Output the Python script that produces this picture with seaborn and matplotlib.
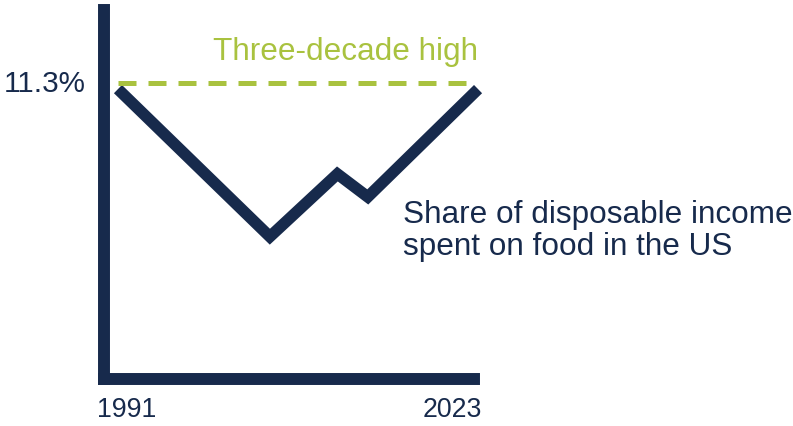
import matplotlib
matplotlib.use("Agg")
import matplotlib.pyplot as plt
import seaborn as sns
import pandas as pd

years = [1991, 2004.5, 2010.5, 2013.2, 2023]
share = [11.23, 9.56, 10.27, 10.01, 11.23]
high_value = 11.3
x_labels = ["1991", "2023"]
y_label = "11.3%"
series_label = "Share of disposable income\nspent on food in the US"
high_label = "Three-decade high"

NAVY = "#172a4c"
GREEN = "#a9c23f"

sns.set_style("white")
plt.rcParams["font.family"] = ["Liberation Sans", "DejaVu Sans"]

fig = plt.figure(figsize=(7.93, 4.27), dpi=100)
ax = fig.add_axes([104 / 793, 1 - 380 / 427, (474 - 104) / 793, (380 - 11) / 427])

df = pd.DataFrame({"year": years, "share": share})
sns.lineplot(data=df, x="year", y="share", ax=ax, color=NAVY, linewidth=8.3,
             solid_joinstyle="miter", solid_capstyle="butt")
ax.plot([years[0], years[-1]], [high_value, high_value], color=GREEN, linewidth=3.6,
        dashes=(3.6, 2.4), clip_on=False)

ax.set_xlim(1989.76, 2022.64)
ax.set_ylim(7.95, 12.125)
for line in ax.get_lines():
    line.set_clip_on(False)

for s in ["top", "right"]:
    ax.spines[s].set_visible(False)
for s in ["left", "bottom"]:
    ax.spines[s].set_color(NAVY)
    ax.spines[s].set_linewidth(8.6)

ax.set_xticks([])
ax.set_yticks([])
ax.set_xlabel("")
ax.set_ylabel("")

ax.text(-0.05, high_value, y_label, transform=ax.get_yaxis_transform(), ha="right",
        va="center", fontsize=21.3, color=NAVY)
fig.text(97 / 793, 1 - 410 / 427, x_labels[0], ha="left", va="center", fontsize=19.2,
         color=NAVY)
fig.text(482 / 793, 1 - 410 / 427, x_labels[1], ha="right", va="center", fontsize=19.2,
         color=NAVY)
fig.text(478 / 793, 1 - 52 / 427, high_label, ha="right", va="center", fontsize=22.7,
         color=GREEN)
fig.text(403 / 793, 1 - 231 / 427, series_label, ha="left", va="center", fontsize=22.7,
         color=NAVY, linespacing=1.1)

fig.savefig("out.png", dpi=100)
